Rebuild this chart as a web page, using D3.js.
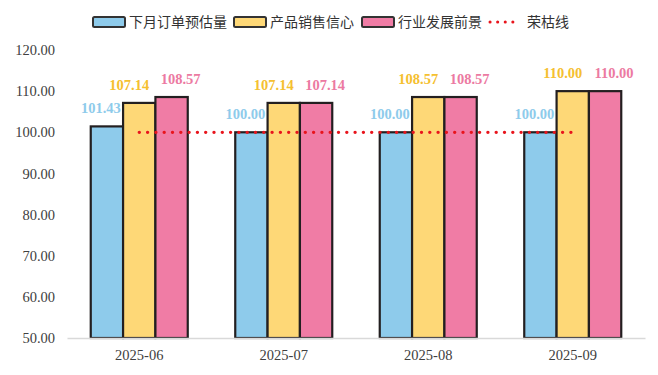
<!DOCTYPE html>
<html>
<head>
<meta charset="utf-8">
<script src="https://cdn.jsdelivr.net/npm/d3@7"></script>
<style>
  body { margin: 0; background: #fff; }
  svg { display: block; }
</style>
</head>
<body>
<div id="chart"></div>
<script>
// categories and series
var months = ["2025-06", "2025-07", "2025-08", "2025-09"];
var orderForecast = [101.43, 100.00, 100.00, 100.00];
var salesConfidence = [107.14, 107.14, 108.57, 110.00];
var industryOutlook = [108.57, 107.14, 108.57, 110.00];
var boomLine = [100, 100, 100, 100];
var yTicks = [50, 60, 70, 80, 90, 100, 110, 120];

var seriesNames = ["下月订单预估量", "产品销售信心", "行业发展前景"];
var seriesData = [orderForecast, salesConfidence, industryOutlook];

var barColors = ["#8ecbeb", "#fed877", "#f07ca5"];
var labelColors = ["#8ecbeb", "#f5c030", "#ec7aa2"];
// labels are nudged sideways so neighbours don't collide
var labelNudge = [-6, -10, 9];

var serif = "'Liberation Serif', 'Times New Roman', serif";

var W = 658, H = 375;
var margin = {top: 50, right: 13, bottom: 37, left: 67};
var width = W - margin.left - margin.right;
var height = H - margin.top - margin.bottom;

var svg = d3.select("#chart").append("svg")
  .attr("width", W)
  .attr("height", H);

var g = svg.append("g")
  .attr("transform", "translate(" + margin.left + "," + margin.top + ")");

var x = d3.scaleBand().domain(months).range([0, width]).paddingInner(0).paddingOuter(0);
var y = d3.scaleLinear().domain([50, 120]).range([height, 0]);

var groupW = 97;
var x1 = d3.scaleBand().domain(d3.range(3)).range([0, groupW]).padding(0);

function barX(i, s) {
  return x(months[i]) + x.bandwidth() / 2 - groupW / 2 + x1(s);
}

// y axis (no line)
var yAxis = g.append("g")
  .call(d3.axisLeft(y).tickValues(yTicks).tickSize(0).tickPadding(12)
    .tickFormat(function(d) { return d3.format(".2f")(d); }));
yAxis.select(".domain").remove();
yAxis.selectAll(".tick text")
  .attr("font-family", serif)
  .attr("font-size", 14.5)
  .attr("fill", "#404040");

// bars
seriesData.forEach(function(values, s) {
  g.selectAll(".bar-" + s)
    .data(values)
    .enter().append("rect")
    .attr("class", "bar-" + s)
    .attr("x", function(d, i) { return barX(i, s); })
    .attr("y", function(d) { return y(d); })
    .attr("width", x1.bandwidth())
    .attr("height", function(d) { return height - y(d); })
    .attr("fill", barColors[s])
    .attr("stroke", "#231f20")
    .attr("stroke-width", 2.2);
});

// x axis
var xAxis = g.append("g")
  .attr("transform", "translate(0," + height + ")")
  .call(d3.axisBottom(x).tickSize(0).tickPadding(12));
xAxis.select(".domain").attr("stroke", "#d9d9d9").attr("stroke-width", 1.5);
xAxis.selectAll(".tick text")
  .attr("font-family", serif)
  .attr("font-size", 14.5)
  .attr("fill", "#404040");

// data labels
seriesData.forEach(function(values, s) {
  g.selectAll(".label-" + s)
    .data(values)
    .enter().append("text")
    .attr("x", function(d, i) { return barX(i, s) + x1.bandwidth() / 2 + labelNudge[s]; })
    .attr("y", function(d) { return y(d) - 13; })
    .attr("text-anchor", "middle")
    .style("font-family", serif)
    .style("font-weight", "bold")
    .style("font-size", "14.5px")
    .style("fill", labelColors[s])
    .text(function(d) { return d3.format(".2f")(d); });
});

// boom line (dotted red)
var line = d3.line()
  .x(function(d, i) { return x(months[i]) + x.bandwidth() / 2; })
  .y(function(d) { return y(d); });
g.append("path")
  .datum(boomLine)
  .attr("d", line)
  .attr("fill", "none")
  .attr("stroke", "#e8141c")
  .attr("stroke-width", 3.3)
  .attr("stroke-linecap", "round")
  .attr("stroke-dasharray", "0.1 8.2");

// legend
var legend = svg.append("g").attr("transform", "translate(0,22)");
var legendItems = [
  {name: seriesNames[0], type: "bar", color: barColors[0], x: 92},
  {name: seriesNames[1], type: "bar", color: barColors[1], x: 233},
  {name: seriesNames[2], type: "bar", color: barColors[2], x: 361},
  {name: "荣枯线", type: "line", color: "#e8141c", x: 487}
];
legendItems.forEach(function(it) {
  var lg = legend.append("g").attr("transform", "translate(" + it.x + ",0)");
  if (it.type === "bar") {
    lg.append("rect")
      .attr("x", 1).attr("y", -5)
      .attr("width", 32).attr("height", 10)
      .attr("rx", 1.5)
      .attr("fill", it.color)
      .attr("stroke", "#333")
      .attr("stroke-width", 2);
  } else {
    lg.append("line")
      .attr("x1", 3).attr("x2", 33)
      .attr("y1", 0).attr("y2", 0)
      .attr("stroke", it.color)
      .attr("stroke-width", 3)
      .attr("stroke-linecap", "round")
      .attr("stroke-dasharray", "0.1 7.5");
  }
  lg.append("text")
    .attr("x", it.type === "bar" ? 37 : 40).attr("y", 0)
    .attr("dy", "0.35em")
    .style("font-family", "'Noto Sans CJK SC', 'Noto Sans', sans-serif")
    .style("font-size", "14px")
    .style("fill", "#333")
    .text(it.name);
});
</script>
</body>
</html>
